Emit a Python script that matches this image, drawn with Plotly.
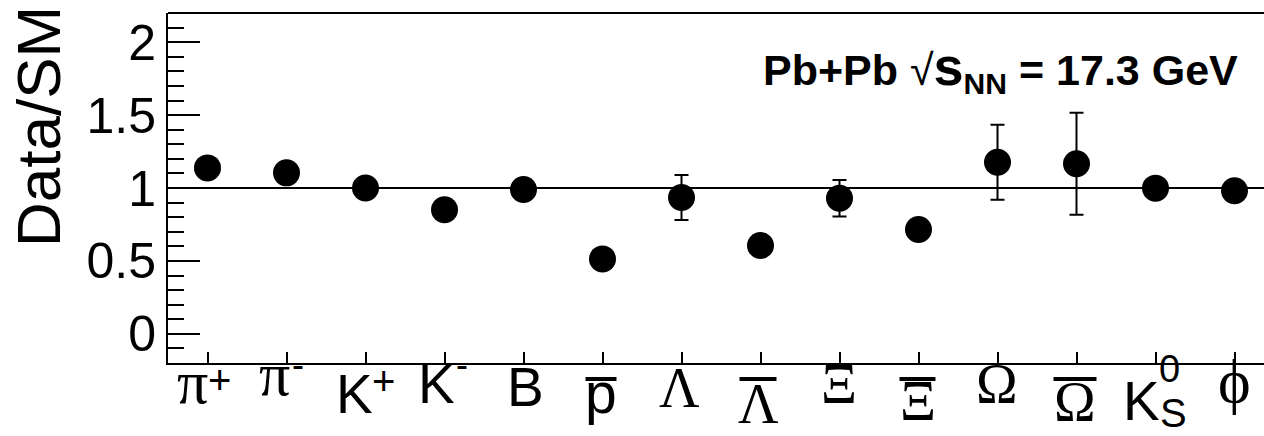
import plotly.graph_objects as go

# ---------------- data ----------------
categories = ["pi+", "pi-", "K+", "K-", "B", "pbar", "Lambda", "Lambdabar",
              "Xi", "Xibar", "Omega", "Omegabar", "K0S", "phi"]
ratio = [1.138, 1.104, 1.000, 0.851, 0.990, 0.514, 0.935, 0.606,
         0.930, 0.715, 1.177, 1.166, 0.999, 0.981]
ratio_err = [None, None, None, None, None, None, 0.155, None,
             0.125, None, 0.257, 0.350, None, None]

label_main = ["π", "π", "K", "K", "B", "p", "Λ", "Λ", "Ξ", "Ξ", "Ω", "Ω", "K", "ϕ"]
label_sup = ["+", "-", "+", "-", "", "", "", "", "", "", "", "", "0", ""]
label_sub = ["", "", "", "", "", "", "", "", "", "", "", "", "S", ""]
label_bar = [False, False, False, False, False, True, False, True,
             False, True, False, True, False, False]

y_ticks = [0, 0.5, 1, 1.5, 2]
y_ticktext = ["0", "0.5", "1", "1.5", "2"]

# ---------------- style ----------------
W, H = 1264, 436
L, T, B = 168, 13, 73
plot_bottom = H - B          # pixel row of the x axis
SANS = "Liberation Sans, Arial, sans-serif"
SERIF = "Liberation Serif, Times New Roman, DejaVu Serif, serif"
GREEK = set("πΛΞΩϕφ")

# per-label placement (pixel offsets relative to the tick)
main_dx = [-15.5, -12, -11.5, -8, 1.5, -2, -2, -2.5, -1, -1, -1, -1.5, -14.5, -0.5]
main_base = [403, 395, 413, 403, 406, 413, 407, 423, 403, 420, 403, 421, 420, 402]
main_size = [62, 62, 55, 55, 55, 57, 56, 56, 56, 56, 56, 56, 55, 62]
sup_dx = [11.5, 11, 17.5, 17.5, 0, 0, 0, 0, 0, 0, 0, 0, 13.5, 0]
sup_cy = [380, 364, 381, 364, 0, 0, 0, 0, 0, 0, 0, 0, 369, 0]
sup_size = [40, 36, 40, 36, 0, 0, 0, 0, 0, 0, 0, 0, 38, 0]
sub_dx = [0] * 12 + [17.5, 0]
sub_cy = [0] * 12 + [413, 0]
sub_size = 40
bar_dx = [0, 0, 0, 0, 0, -1.5, 0, -2.5, 0, -1, 0, -1.5, 0, 0]
bar_hw = [0, 0, 0, 0, 0, 15.5, 0, 18.5, 0, 18, 0, 21.5, 0, 0]
bar_y = 379

x_idx = list(range(len(categories)))
bin_px = 79.0
x_min = -0.5
x_max = x_min + (W - L) / bin_px

fig = go.Figure()
fig.add_trace(go.Scatter(
    x=x_idx, y=ratio, mode="markers",
    marker=dict(color="black", size=27, symbol="circle", line=dict(width=0)),
    error_y=dict(type="data", array=ratio_err, visible=True,
                 color="black", thickness=2, width=7),
    showlegend=False, cliponaxis=False,
))

annotations = []
shapes = []

def ann(text, i, dx, cy, size, family):
    annotations.append(dict(
        text=text, x=i, xref="x", xshift=dx, xanchor="center",
        y=0, yref="paper", yshift=plot_bottom - cy, yanchor="middle",
        showarrow=False, font=dict(size=size, family=family, color="black"),
        borderpad=0,
    ))

for i, name in enumerate(label_main):
    fam = SERIF if name in GREEK else SANS
    cy = main_base[i] - 0.345 * main_size[i]
    ann(name, i, main_dx[i], cy, main_size[i], fam)
    if label_sup[i]:
        ann(label_sup[i], i, sup_dx[i], sup_cy[i], sup_size[i], SANS)
    if label_sub[i]:
        ann(label_sub[i], i, sub_dx[i], sub_cy[i], sub_size, SANS)
    if label_bar[i]:
        cx = i + bar_dx[i] / bin_px
        hw = bar_hw[i] / bin_px
        yb = (plot_bottom - bar_y) / (H - T - B)
        shapes.append(dict(type="line", xref="x", yref="paper",
                           x0=cx - hw, x1=cx + hw, y0=yb, y1=yb,
                           line=dict(color="black", width=4)))

# reference line at 1 and top frame
shapes.append(dict(type="line", xref="paper", yref="y", x0=0, x1=1, y0=1, y1=1,
                   line=dict(color="black", width=2), layer="below"))
shapes.append(dict(type="line", xref="paper", yref="paper", x0=0, x1=1, y0=1, y1=1,
                   line=dict(color="black", width=2)))

# y-axis title
annotations.append(dict(
    text="Data/SM", textangle=-90, x=0, xref="paper", xshift=38.5 - L,
    xanchor="center", y=1, yref="paper", yshift=9, yanchor="top",
    showarrow=False, font=dict(size=62, family=SANS, color="black"),
))

# energy label
annotations.append(dict(
    text="<b>Pb+Pb</b> √<b><span style='font-size:54px'>s</span><sub>NN</sub> = 17.3 GeV</b>",
    x=1, xref="paper", xanchor="right", xshift=-24,
    y=1, yref="paper", yanchor="middle", yshift=-(68 - T),
    showarrow=False, font=dict(size=43, family=SANS, color="black"),
))

fig.update_layout(
    width=W, height=H,
    margin=dict(l=L, r=0, t=T, b=B, pad=0),
    plot_bgcolor="white", paper_bgcolor="white",
    annotations=annotations, shapes=shapes,
    xaxis=dict(range=[x_min, x_max], tickvals=x_idx, showticklabels=False,
               ticks="inside", ticklen=11, tickwidth=2, tickcolor="black",
               showline=True, linewidth=2, linecolor="black",
               showgrid=False, zeroline=False, fixedrange=True),
    yaxis=dict(range=[-0.2, 2.2], tickvals=y_ticks, ticktext=y_ticktext,
               ticks="inside", ticklen=32, tickwidth=2, tickcolor="black",
               minor=dict(dtick=0.1, tick0=0, ticks="inside", ticklen=16,
                          tickwidth=2, tickcolor="black", showgrid=False),
               tickfont=dict(size=50, family=SANS, color="black"),
               showline=True, linewidth=2, linecolor="black",
               showgrid=False, zeroline=False, fixedrange=True),
)

fig.write_html("out.html")
